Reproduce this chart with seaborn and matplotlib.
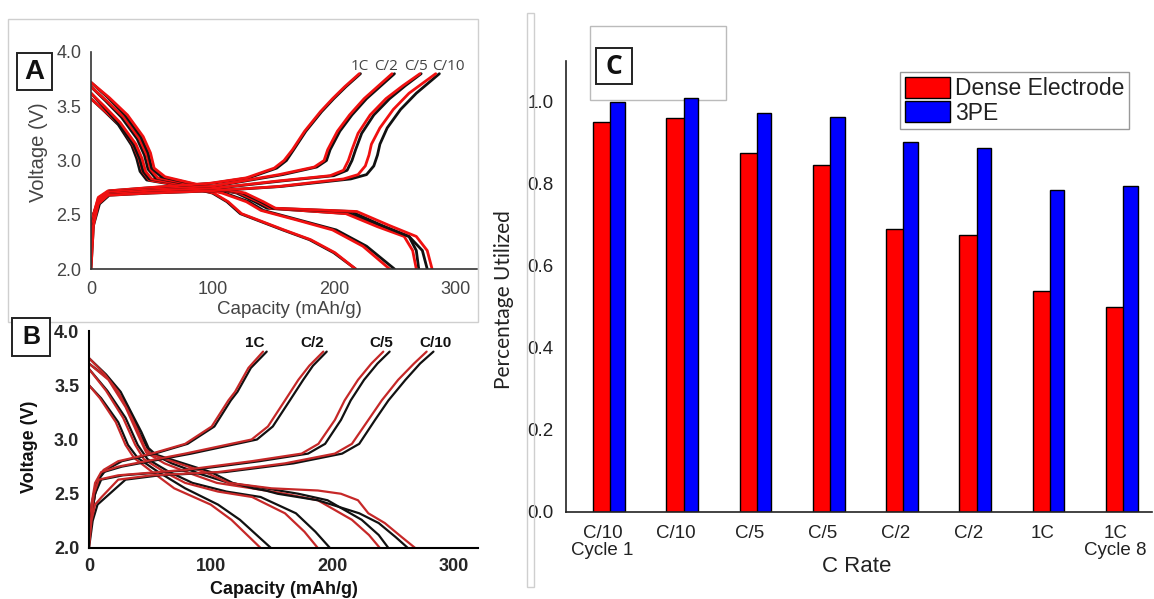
import numpy as np
import matplotlib
matplotlib.use("Agg")
import matplotlib.pyplot as plt
import seaborn as sns
from matplotlib.patches import Rectangle, Patch
from matplotlib.ticker import MultipleLocator, FormatStrFormatter, FixedLocator

# ---------------- data ----------------
RATE_LABELS = ["1C", "C/2", "C/5", "C/10"]

# Panel A: discharge curves (voltage V, capacity mAh/g) for 1C, C/2, C/5, C/10
A_DIS_V = [
    [3.57, 3.45, 3.33, 3.14, 3.02, 2.90, 2.82, 2.76, 2.70, 2.62, 2.51, 2.36, 2.27, 2.15, 2.00],
    [3.62, 3.50, 3.35, 3.15, 3.02, 2.90, 2.83, 2.77, 2.70, 2.62, 2.54, 2.45, 2.36, 2.21, 2.00],
    [3.68, 3.55, 3.40, 3.20, 3.05, 2.92, 2.84, 2.77, 2.70, 2.62, 2.56, 2.51, 2.39, 2.30, 2.17, 2.00],
    [3.72, 3.58, 3.42, 3.22, 3.07, 2.93, 2.85, 2.77, 2.70, 2.62, 2.56, 2.53, 2.40, 2.30, 2.17, 2.00],
]
A_DIS_BLACK = [
    [0, 11.5, 22.5, 33.5, 37.6, 40.4, 45.9, 77, 100, 112, 123, 158, 180, 200, 218],
    [0, 10, 22, 35, 40, 43, 48, 80, 110, 130, 142, 172, 202, 227, 250],
    [0, 12, 25, 38, 44, 47, 53, 85, 120, 135, 145, 213, 241, 262, 268, 270],
    [0, 14, 28, 41, 47, 50, 58, 90, 125, 140, 150, 214, 240, 262, 273, 277],
]
A_DIS_RED = [
    [0, 12, 24, 35, 39.5, 42.5, 48, 78, 101, 113, 124, 159, 181, 201, 218],
    [0, 11, 24, 37, 42, 45, 50, 80, 108, 128, 140, 170, 199, 224, 246],
    [0, 13, 27, 40, 46, 49, 55, 88, 122, 138, 148, 210, 236, 258, 265, 268],
    [0, 15, 30, 43, 49, 52, 61, 91, 127, 142, 152, 219, 246, 268, 277, 281],
]
# Panel A: charge curves
A_CHG_V = [
    [2.30, 2.50, 2.66, 2.72, 2.75, 2.79, 2.84, 2.93, 3.00, 3.10, 3.27, 3.45, 3.57, 3.68, 3.80],
    [2.25, 2.50, 2.65, 2.71, 2.73, 2.76, 2.87, 2.94, 3.00, 3.10, 3.27, 3.42, 3.57, 3.68, 3.80],
    [2.20, 2.45, 2.63, 2.69, 2.72, 2.74, 2.81, 2.86, 2.91, 3.00, 3.10, 3.25, 3.42, 3.57, 3.69, 3.80],
    [2.00, 2.40, 2.60, 2.68, 2.70, 2.72, 2.76, 2.83, 2.87, 2.95, 3.05, 3.15, 3.30, 3.47, 3.62, 3.80],
]
A_CHG_BLACK = [
    [0, 2, 7, 15, 50, 100, 130, 153, 161, 167, 177, 190, 200, 210, 222],
    [0, 2, 7, 15, 50, 100, 158, 186, 194, 197, 205, 215, 227, 238, 250],
    [0, 2, 7, 15, 50, 100, 156, 200, 211, 215, 218, 223, 233, 246, 259, 272],
    [0, 2, 7, 15, 50, 100, 156, 214, 227, 233, 236, 238, 244, 255, 268, 287],
]
A_CHG_RED = [
    [0, 2, 6, 14, 48, 98, 128, 151, 159, 166, 176, 189, 199, 209, 221],
    [0, 2, 6, 14, 48, 98, 155, 184, 192, 195, 203, 213, 225, 236, 248],
    [0, 2, 6, 14, 48, 98, 153, 197, 208, 212, 215, 220, 230, 243, 257, 271],
    [0, 2, 6, 14, 48, 98, 154, 208, 220, 226, 229, 231, 238, 249, 262, 284],
]

# Panel B: discharge curves
B_DIS_V = [
    [3.50, 3.38, 3.16, 2.95, 2.83, 2.70, 2.55, 2.40, 2.26, 2.00],
    [3.65, 3.45, 3.20, 2.95, 2.82, 2.70, 2.60, 2.52, 2.47, 2.32, 2.15, 2.00],
    [3.70, 3.55, 3.30, 3.05, 2.88, 2.78, 2.68, 2.60, 2.55, 2.50, 2.44, 2.26, 2.12, 2.00],
    [3.75, 3.60, 3.44, 3.20, 3.07, 2.92, 2.86, 2.80, 2.70, 2.60, 2.55, 2.53, 2.50, 2.44, 2.32, 2.23, 2.10, 2.00],
]
B_DIS_BLACK = [
    [0, 10, 24, 32, 40, 57, 79, 106, 124, 149.5],
    [0, 15, 30, 40, 48, 66, 85, 113, 141, 170, 186, 198],
    [0, 17, 32, 42, 50, 68, 92, 115, 145, 172, 196, 224, 238, 246],
    [0, 14, 26, 37, 43, 49, 55, 72, 100, 118, 135, 145, 155, 188, 222, 238, 252, 262],
]
B_DIS_RED = [
    [0, 9, 22, 30, 37, 52, 70, 100, 117, 141],
    [0, 14, 28, 38, 45, 62, 79, 106, 134, 161, 177, 188],
    [0, 16, 30, 40, 47, 62, 85, 105, 134, 161, 188, 216, 230, 239],
    [0, 13, 24, 35, 40.5, 46, 51.5, 68, 95, 115, 150, 188, 207, 221, 229.5, 243, 257, 268],
]
# Panel B: charge curves
B_CHG_V = [
    [2.05, 2.30, 2.50, 2.65, 2.72, 2.80, 2.87, 2.96, 3.12, 3.36, 3.44, 3.66, 3.81],
    [2.10, 2.40, 2.60, 2.70, 2.75, 2.87, 3.00, 3.12, 3.36, 3.55, 3.68, 3.81],
    [2.05, 2.30, 2.50, 2.63, 2.67, 2.72, 2.80, 2.87, 2.96, 3.18, 3.36, 3.55, 3.70, 3.81],
    [2.00, 2.25, 2.40, 2.47, 2.63, 2.67, 2.70, 2.78, 2.87, 2.96, 3.18, 3.36, 3.55, 3.70, 3.81],
]
B_CHG_BLACK = [
    [0, 2, 5, 9, 14, 27, 54, 81, 103, 116.5, 122, 133, 146],
    [0, 2, 6, 12, 27, 84, 138, 151, 165, 176, 184, 195.3],
    [0, 2, 5, 10, 28, 85, 140, 180, 194, 207, 215, 226, 237, 247],
    [0, 3, 7, 14, 30, 58, 112, 168, 208, 222, 235, 246, 260, 272, 283],
]
B_CHG_RED = [
    [0, 2, 5, 8, 12, 24, 51.5, 79, 100.8, 114.5, 120, 131, 143],
    [0, 2, 5, 10, 24, 79, 133.6, 147, 161, 172, 181, 192.5],
    [0, 2, 4, 8, 24, 79, 133.6, 174.7, 188.5, 202, 210, 221, 232, 241.8],
    [0, 2, 5, 10.4, 24, 51.5, 106, 161, 202, 216, 229.5, 240.5, 254, 267, 277.4],
]

# Panel C: bar chart
C_CATEGORIES = ["C/10\nCycle 1", "C/10", "C/5", "C/5", "C/2", "C/2", "1C", "1C\nCycle 8"]
C_DENSE = [0.951, 0.960, 0.875, 0.846, 0.691, 0.676, 0.540, 0.499]
C_3PE = [1.000, 1.009, 0.972, 0.963, 0.902, 0.889, 0.785, 0.794]
C_SERIES = ["Dense Electrode", "3PE"]

# ---------------- figure ----------------
W, H = 1154, 599
sns.set_theme(style="white")
plt.rcParams["font.family"] = ["Liberation Sans", "DejaVu Sans"]
NARROW = ["Liberation Sans", "DejaVu Sans"]

fig = plt.figure(figsize=(W / 100, H / 100), dpi=100)
fig.patch.set_facecolor("white")


def fx(px):
    return px / W


def fy(py):
    return 1 - py / H


def axrect(l, t, r, b):
    return [fx(l), fy(b), (r - l) / W, (b - t) / H]


def frame(l, t, r, b, ec, lw, fc="none", z=5):
    fig.add_artist(Rectangle((fx(l), fy(b)), (r - l) / W, (b - t) / H,
                             transform=fig.transFigure, fill=(fc != "none"),
                             facecolor=fc, edgecolor=ec, lw=lw, zorder=z))


# outer light frames
frame(8, 19, 478, 322, "#cfcfcf", 1.0)
frame(527, 13, 534, 587, "#cfcfcf", 1.0)

axA = fig.add_axes(axrect(91, 52, 477, 269))
axB = fig.add_axes(axrect(89, 331, 478, 548))
axC = fig.add_axes(axrect(566, 61, 1152, 512))
for ax in (axA, axB, axC):
    ax.patch.set_alpha(0)


def draw_curves(ax, Vs, blacks, reds, red_color, lw):
    for v, cb, cr in zip(Vs, blacks, reds):
        sns.lineplot(x=cb, y=v, sort=False, estimator=None, color="#111111", lw=lw, ax=ax)
        sns.lineplot(x=cr, y=v, sort=False, estimator=None, color=red_color, lw=lw, ax=ax)


# ---- Panel A ----
draw_curves(axA, A_DIS_V, A_DIS_BLACK, A_DIS_RED, "#f01010", 2.0)
draw_curves(axA, A_CHG_V, A_CHG_BLACK, A_CHG_RED, "#f01010", 2.0)
axA.set_xlim(0, 318)
axA.set_ylim(2.0, 4.0)
axA.set_xticks([0, 100, 200, 300])
axA.set_yticks([2.0, 2.5, 3.0, 3.5, 4.0])
axA.yaxis.set_major_formatter(FormatStrFormatter("%.1f"))
for s in ["top", "right"]:
    axA.spines[s].set_visible(False)
for s in ["left", "bottom"]:
    axA.spines[s].set_color("#333333")
    axA.spines[s].set_linewidth(1.2)
axA.tick_params(axis="both", direction="out", length=4, width=1.1, color="#333333",
                labelsize=13, labelcolor="#444444", pad=3)
axA.tick_params(axis="x", pad=5)
axA.set_xlabel("")
axA.set_ylabel("")
fig.text(fx(289), fy(309), "Capacity (mAh/g)", ha="center", va="center", fontsize=13.5, color="#444444")
fig.text(fx(38), fy(152), "Voltage (V)", ha="center", va="center", rotation=90, fontsize=14.5, color="#444444")
for lab, xc in zip(RATE_LABELS, [360, 386, 416, 448]):
    fig.text(fx(xc), fy(66), lab, ha="center", va="center", fontsize=11, color="#444444",
             family=["Open Sans", "DejaVu Sans"])
frame(17, 53, 52, 90, "#222222", 1.4, fc="white", z=6)
fig.text(fx(34.5), fy(72), "A", ha="center", va="center", fontsize=20, fontweight="bold",
         color="#111111", zorder=9)

# ---- Panel B ----
draw_curves(axB, B_DIS_V, B_DIS_BLACK, B_DIS_RED, "#c62828", 1.6)
draw_curves(axB, B_CHG_V, B_CHG_BLACK, B_CHG_RED, "#c62828", 1.6)
axB.set_xlim(0, 319.6)
axB.set_ylim(2.0, 4.0)
axB.xaxis.set_major_locator(MultipleLocator(100))
axB.xaxis.set_minor_locator(MultipleLocator(50))
axB.yaxis.set_major_locator(MultipleLocator(0.5))
axB.yaxis.set_minor_locator(MultipleLocator(0.25))
axB.yaxis.set_major_formatter(FormatStrFormatter("%.1f"))
for s in ["top", "right"]:
    axB.spines[s].set_visible(False)
for s in ["left", "bottom"]:
    axB.spines[s].set_color("black")
    axB.spines[s].set_linewidth(1.5)
axB.tick_params(axis="both", which="major", direction="out", length=4, width=1.3, color="black",
                labelsize=13, pad=3)
axB.tick_params(axis="both", which="minor", direction="out", length=3, width=1.1, color="black")
for lab in axB.get_xticklabels() + axB.get_yticklabels():
    lab.set_fontweight("bold")
axB.set_xlabel("")
axB.set_ylabel("")
fig.text(fx(284), fy(589), "Capacity (mAh/g)", ha="center", va="center", fontsize=13,
         fontweight="bold", color="#111111")
fig.text(fx(29), fy(447), "Voltage (V)", ha="center", va="center", rotation=90, fontsize=13,
         fontweight="bold", color="#111111")
for lab, xc in zip(RATE_LABELS, [255, 312, 381, 435]):
    fig.text(fx(xc), fy(343), lab, ha="center", va="center", fontsize=11, fontweight="bold",
             color="#111111")
frame(12, 318, 50, 356, "#222222", 1.4, fc="white", z=6)
fig.text(fx(31), fy(337), "B", ha="center", va="center", fontsize=18, fontweight="bold",
         color="#111111", zorder=9)

# ---- Panel C ----
pos = np.arange(len(C_CATEGORIES))
sns.barplot(x=pos, y=C_DENSE, native_scale=True, width=0.26, color="#ff0000", saturation=1,
            edgecolor="black", linewidth=1.0, errorbar=None, ax=axC)
sns.barplot(x=pos + 0.205, y=C_3PE, native_scale=True, width=0.2, color="#0000ff", saturation=1,
            edgecolor="black", linewidth=1.0, errorbar=None, ax=axC)
axC.set_xlim(-0.5, 7.5)
axC.set_ylim(0, 1.1)
axC.xaxis.set_major_locator(FixedLocator(pos))
axC.xaxis.set_minor_locator(FixedLocator(pos - 0.5))
axC.set_xticklabels(C_CATEGORIES, family=NARROW, fontsize=13.5, linespacing=1.05)
axC.yaxis.set_major_locator(FixedLocator([0, 0.2, 0.4, 0.6, 0.8, 1.0]))
axC.yaxis.set_minor_locator(MultipleLocator(0.1))
axC.yaxis.set_major_formatter(FormatStrFormatter("%.1f"))
for lab in axC.get_yticklabels():
    lab.set_family(NARROW)
    lab.set_fontsize(13.5)
for s in ["top", "right"]:
    axC.spines[s].set_visible(False)
for s in ["left", "bottom"]:
    axC.spines[s].set_color("#222222")
    axC.spines[s].set_linewidth(1.2)
axC.tick_params(axis="both", which="major", direction="out", length=5, width=1.1, color="#222222",
                pad=4, labelcolor="#222222")
axC.tick_params(axis="both", which="minor", direction="out", length=4, width=1.0, color="#222222")
axC.set_xlabel("")
axC.set_ylabel("")
fig.text(fx(857), fy(566), "C Rate", ha="center", va="center", fontsize=16, family=NARROW, color="#222222")
fig.text(fx(504), fy(300), "Percentage Utilized", ha="center", va="center", rotation=90,
         fontsize=15, family=["Lato", "DejaVu Sans"], color="#222222")

handles = [Patch(facecolor="#ff0000", edgecolor="black", lw=1.0),
           Patch(facecolor="#0000ff", edgecolor="black", lw=1.0)]
leg = axC.legend(handles, C_SERIES, loc="upper left", bbox_to_anchor=(fx(900), fy(72)),
                 bbox_transform=fig.transFigure, borderaxespad=0, borderpad=0.2,
                 handlelength=2.0, handleheight=1.05, handletextpad=0.2, labelspacing=0.05,
                 prop={"family": NARROW, "size": 16.5}, frameon=True, fancybox=False, framealpha=1)
leg.get_frame().set_edgecolor("#999999")
leg.get_frame().set_linewidth(1.0)
for t in leg.get_texts():
    t.set_color("#222222")

# panel C label boxes sit underneath the bars
frame(590, 26, 726, 100, "#bbbbbb", 1.0, fc="white", z=-2)
frame(596, 48, 632, 84, "#222222", 1.4, fc="white", z=-1)
fig.text(fx(614), fy(66), "C", ha="center", va="center", fontsize=19, fontweight="bold",
         family=["Open Sans", "DejaVu Sans"], color="#111111", zorder=-0.5)

fig.savefig("out.png", dpi=100, facecolor="white")
